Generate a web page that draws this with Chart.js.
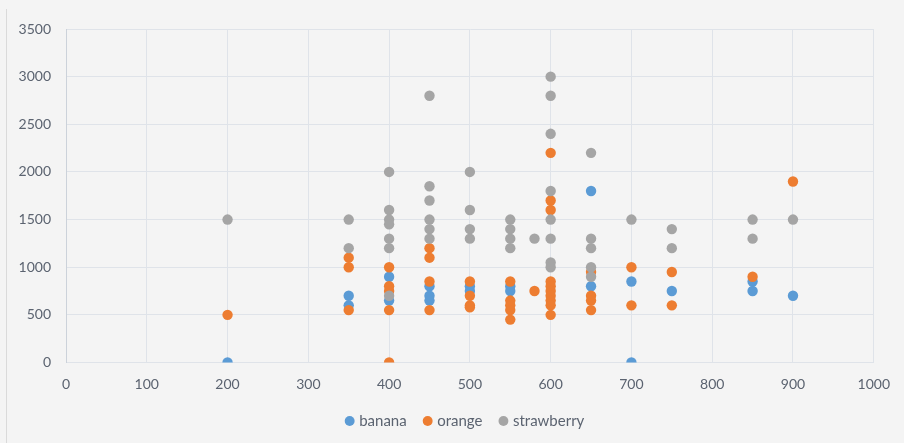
<!DOCTYPE html>
<html>
<head>
<meta charset="utf-8">
<script src="https://cdn.jsdelivr.net/npm/chart.js@4.4.1/dist/chart.umd.min.js"></script>
<style>
  html, body { margin: 0; padding: 0; background: #f4f4f4; }
  #wrap { width: 904px; height: 443px; position: relative; }
</style>
</head>
<body>
<div id="wrap"><canvas id="c" width="904" height="443"></canvas></div>
<script>
// ---- data ----
const seriesNames = ['banana', 'orange', 'strawberry'];
const bananaX = [200, 350, 350, 400, 400, 450, 450, 450, 500, 500, 550, 550, 650, 650, 700, 700, 750, 850, 850, 900];
const bananaY = [0, 700, 600, 900, 650, 800, 700, 650, 800, 750, 800, 750, 1800, 800, 850, 0, 750, 850, 750, 700];
const orangeX = [200, 350, 350, 350, 400, 400, 400, 400, 400, 450, 450, 450, 450, 500, 500, 500, 500, 550, 550, 550, 550, 550, 580,
  600, 600, 600, 600, 600, 600, 600, 600, 600, 600, 650, 650, 650, 650, 700, 700, 750, 750, 850, 900];
const orangeY = [500, 1100, 1000, 550, 1000, 800, 750, 550, 0, 1200, 1100, 850, 550, 850, 700, 600, 580, 850, 650, 600, 550, 450, 750,
  2200, 1700, 1600, 850, 800, 750, 700, 650, 600, 500, 950, 700, 650, 550, 1000, 600, 950, 600, 900, 1900];
const strawberryX = [200, 350, 350, 400, 400, 400, 400, 400, 400, 400, 450, 450, 450, 450, 450, 450, 500, 500, 500, 500,
  550, 550, 550, 550, 580, 600, 600, 600, 600, 600, 600, 600, 600, 650, 650, 650, 650, 650, 700, 750, 750, 850, 850, 900];
const strawberryY = [1500, 1500, 1200, 2000, 1600, 1500, 1450, 1300, 1200, 700, 2800, 1850, 1700, 1500, 1400, 1300, 2000, 1600, 1400, 1300,
  1500, 1400, 1300, 1200, 1300, 3000, 2800, 2400, 1800, 1500, 1300, 1050, 1000, 2200, 1300, 1200, 1000, 900, 1500, 1400, 1200, 1500, 1300, 1500];
const xTicks = [0, 100, 200, 300, 400, 500, 600, 700, 800, 900, 1000];
const yTicks = [0, 500, 1000, 1500, 2000, 2500, 3000, 3500];

const colors = ['#5b9bd5', '#ed7d31', '#a5a5a5'];
const toPts = (xs, ys) => xs.map((x, i) => ({ x: x, y: ys[i] }));
const seriesData = [toPts(bananaX, bananaY), toPts(orangeX, orangeY), toPts(strawberryX, strawberryY)];

const textColor = '#5b6370';
const gridColor = '#dfe3e9';

const bgPlugin = {
  id: 'bg',
  afterLayout(chart) {
    // centre the legend a little further right, as in the reference
    if (chart.legend) { chart.legend.left += 54; }
  },
  beforeDraw(chart) {
    const ctx = chart.ctx;
    ctx.save();
    ctx.fillStyle = '#f4f4f4';
    ctx.fillRect(0, 0, chart.width, chart.height);
    ctx.strokeStyle = '#dadada';
    ctx.lineWidth = 1;
    ctx.beginPath();
    ctx.moveTo(6.5, 9);
    ctx.lineTo(6.5, chart.height);
    ctx.stroke();
    ctx.restore();
  }
};

new Chart(document.getElementById('c'), {
  type: 'scatter',
  data: {
    datasets: seriesNames.map((name, i) => ({
      label: name,
      data: seriesData[i],
      backgroundColor: colors[i],
      borderColor: colors[i],
      pointRadius: 5.2,
      pointHoverRadius: 5.2,
      borderWidth: 0,
      order: 3 - i
    }))
  },
  options: {
    responsive: false,
    animation: false,
    layout: { padding: { left: 0, right: 26, top: 29, bottom: 4.5 } },
    plugins: {
      tooltip: { enabled: false },
      legend: {
        position: 'bottom',
        labels: {
          usePointStyle: true,
          pointStyle: 'circle',
          boxWidth: 4,
          boxHeight: 7,
          padding: 19,
          color: textColor,
          font: { family: 'Lato', size: 15 },
          sort: (a, b) => a.datasetIndex - b.datasetIndex
        }
      }
    },
    scales: {
      x: {
        type: 'linear',
        min: 0, max: 1000,
        afterBuildTicks: (s) => { s.ticks = xTicks.map(v => ({ value: v })); },
        afterFit: (s) => { s.height = 32; },
        grid: { color: gridColor, drawTicks: false },
        border: { color: gridColor },
        ticks: { color: textColor, font: { family: 'Lato', size: 14 }, padding: 14, callback: (v) => String(v) }
      },
      y: {
        type: 'linear',
        min: 0, max: 3500,
        afterBuildTicks: (s) => { s.ticks = yTicks.map(v => ({ value: v })); },
        afterFit: (s) => { s.width = 66; },
        grid: { color: gridColor, drawTicks: false },
        border: { color: '#ccd2da' },
        ticks: { color: textColor, font: { family: 'Lato', size: 14 }, padding: 15, callback: (v) => String(v) }
      }
    }
  },
  plugins: [bgPlugin]
});
</script>
</body>
</html>
